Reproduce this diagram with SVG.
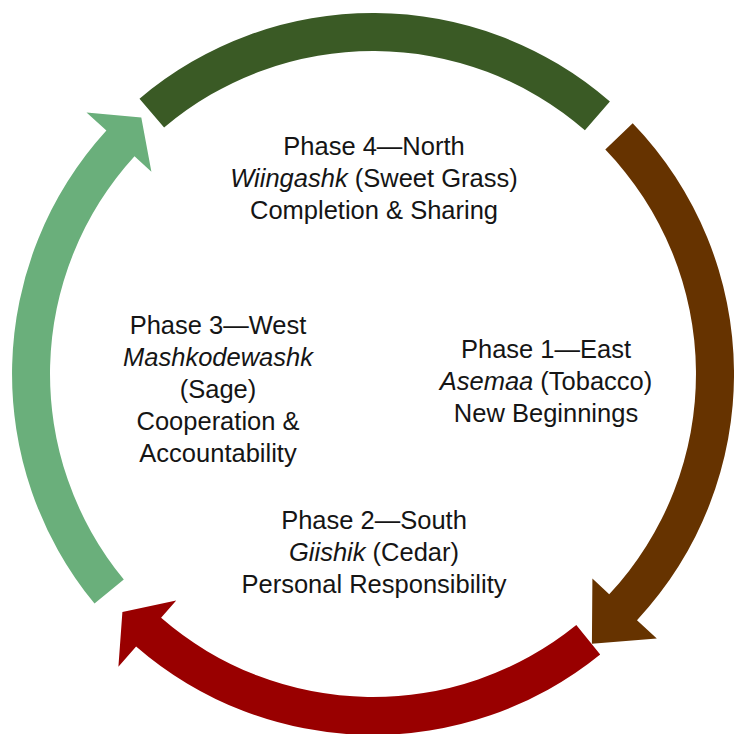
<svg xmlns="http://www.w3.org/2000/svg" width="734" height="734" viewBox="0 0 734 734">
<style>
.t{font-family:"Liberation Sans",Arial,sans-serif;font-size:25.5px;fill:#151515;text-anchor:middle}
.i{font-style:italic}
</style>
<rect width="734" height="734" fill="#fff"/>
<g id="connectors">
<path id="arc-north" fill="#3a5a25" d="M139.5,98.7 A361,361 0 0 1 609.9,101.6 L584.9,130.2 A323,323 0 0 0 164.1,127.6 Z"/>
<path id="arc-east" fill="#663300" d="M632.7,123.2 A361,361 0 0 1 637.0,620.2 L656.8,638.6 L591.9,643.7 L592.4,578.6 L609.2,594.3 A323,323 0 0 0 605.3,149.6 Z"/>
<path id="arc-south" fill="#990000" d="M600.2,654.5 A361,361 0 0 1 136.1,646.4 L118.4,666.8 L122.4,611.9 L176.2,600.4 L161.1,617.8 A323,323 0 0 0 576.3,625.0 Z"/>
<path id="arc-west" fill="#6aaf7b" d="M94.5,603.6 A361,361 0 0 1 106.4,130.6 L86.5,112.4 L141.3,117.6 L151.4,171.7 L134.5,156.2 A323,323 0 0 0 123.8,579.5 Z"/>
</g>
<g id="phase4">
<text class="t" x="374" y="155">Phase 4—North</text>
<text class="t" x="374" y="187"><tspan class="i">Wiingashk</tspan> (Sweet Grass)</text>
<text class="t" x="374" y="219">Completion &amp; Sharing</text>
</g>
<g id="phase1">
<text class="t" x="546" y="358">Phase 1—East</text>
<text class="t" x="546" y="390"><tspan class="i">Asemaa</tspan> (Tobacco)</text>
<text class="t" x="546" y="422">New Beginnings</text>
</g>
<g id="phase2">
<text class="t" x="374" y="529">Phase 2—South</text>
<text class="t" x="374" y="561"><tspan class="i">Giishik</tspan> (Cedar)</text>
<text class="t" x="374" y="593">Personal Responsibility</text>
</g>
<g id="phase3">
<text class="t" x="218" y="334">Phase 3—West</text>
<text class="t i" x="218" y="366">Mashkodewashk</text>
<text class="t" x="218" y="398">(Sage)</text>
<text class="t" x="218" y="430">Cooperation &amp;</text>
<text class="t" x="218" y="462">Accountability</text>
</g>
</svg>
